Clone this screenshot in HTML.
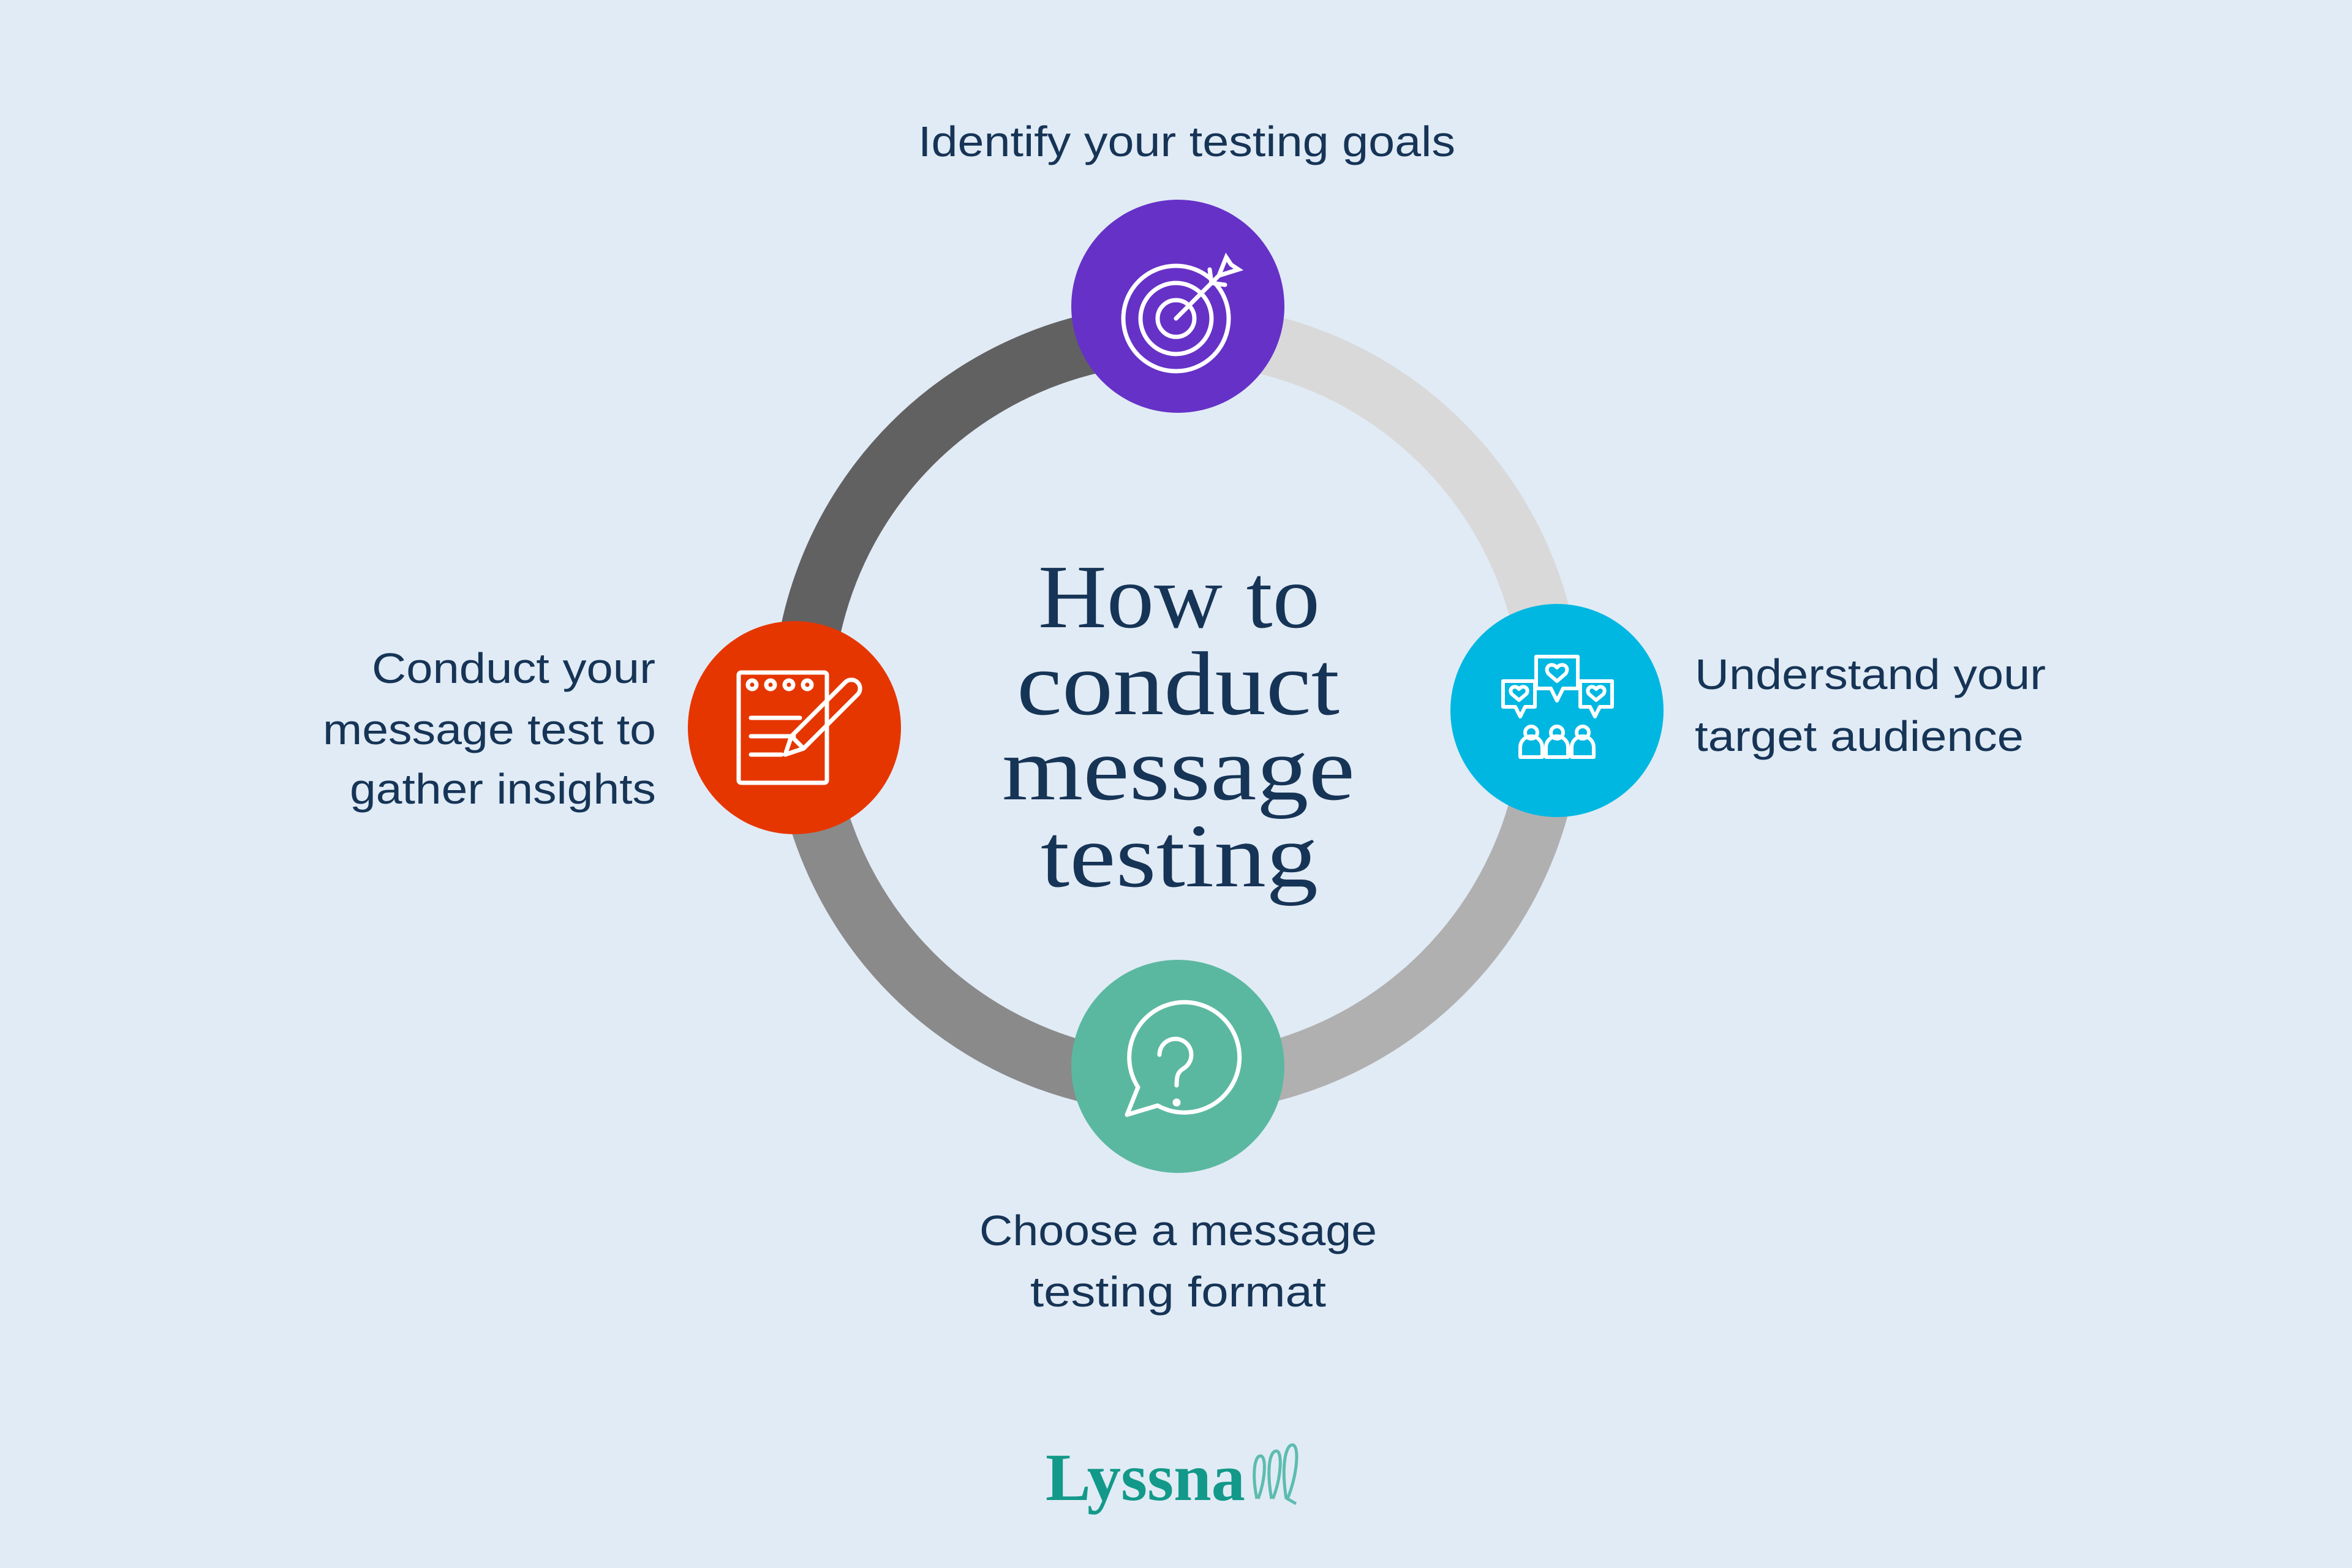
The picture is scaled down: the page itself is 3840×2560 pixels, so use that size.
<!DOCTYPE html>
<html><head><meta charset="utf-8"><style>
html,body{margin:0;padding:0;background:#e1ebf5;}
svg{display:block}
</style></head><body>
<svg width="3840" height="2560" viewBox="0 0 3840 2560" xmlns="http://www.w3.org/2000/svg">
<rect width="3840" height="2560" fill="#e1ebf5"/>
<g fill="none" stroke-width="98">
<path d="M1310 1157 A612 612 0 0 1 1922 545" stroke="#616161"/>
<path d="M1922 545 A612 612 0 0 1 2534 1157" stroke="#d9d9d9"/>
<path d="M2534 1157 A612 612 0 0 1 1922 1769" stroke="#b0b0b0"/>
<path d="M1922 1769 A612 612 0 0 1 1310 1157" stroke="#8a8a8a"/>
</g>
<circle cx="1923" cy="500" r="174" fill="#6631c7"/>
<circle cx="2542" cy="1160" r="174" fill="#00b7e2"/>
<circle cx="1923" cy="1741" r="174" fill="#5bb8a0"/>
<circle cx="1297" cy="1188" r="174" fill="#e63600"/>
<g fill="none" stroke="#fff" stroke-width="7" stroke-linecap="round">
<circle cx="1920" cy="520" r="86"/><circle cx="1920" cy="520" r="58"/><circle cx="1920" cy="520" r="30"/>
<path d="M1920 520 L1990 450 M1975 440 L1978 462 L2000 465 M1990 450 L2002 420 L2010 432 L2022 440 Z"/>
</g>
<g fill="none" stroke="#fff" stroke-width="6" stroke-linejoin="round">
<path d="M2508 1072 h68 v52 h-24 l-10 20 l-10 -20 h-24 z"/>
<path d="M2454 1112 h52 v42 h-16 l-8 16 l-8 -16 h-20 z"/>
<path d="M2580 1112 h52 v42 h-20 l-8 16 l-8 -16 h-16 z"/>
<path d="M2542 1090 c-8 -10 -22 -2 -14 10 l14 12 l14 -12 c8 -12 -6 -20 -14 -10z"/>
<path d="M2480 1125 c-6 -8 -18 -2 -12 8 l12 10 l12 -10 c6 -10 -6 -16 -12 -8z"/>
<path d="M2606 1125 c-6 -8 -18 -2 -12 8 l12 10 l12 -10 c6 -10 -6 -16 -12 -8z"/>
<circle cx="2500" cy="1196" r="10"/><path d="M2482 1236 v-16 a18 18 0 0 1 36 0 v16 z"/>
<circle cx="2542" cy="1196" r="10"/><path d="M2524 1236 v-16 a18 18 0 0 1 36 0 v16 z"/>
<circle cx="2584" cy="1196" r="10"/><path d="M2566 1236 v-16 a18 18 0 0 1 36 0 v16 z"/>
</g>
<g fill="none" stroke="#fff" stroke-width="7" stroke-linecap="round" stroke-linejoin="round">
<path d="M1840 1820 L1858 1775 A90 90 0 1 1 1890 1805 Z"/>
<path d="M1893 1722 a26 26 0 1 1 40 22 c-10 6 -12 12 -12 28"/>
<circle cx="1921" cy="1800" r="3" fill="#fff"/>
</g>
<g fill="none" stroke="#fff" stroke-width="7" stroke-linecap="round" stroke-linejoin="round">
<rect x="1206" y="1098" width="144" height="180" rx="4"/>
<circle cx="1228" cy="1118" r="7"/><circle cx="1258" cy="1118" r="7"/><circle cx="1288" cy="1118" r="7"/><circle cx="1318" cy="1118" r="7"/>
<path d="M1226 1172 h80 M1226 1202 h70 M1226 1232 h50"/>
<path d="M1282 1232 l10 -30 l88 -88 a14 14 0 0 1 20 20 l-88 88 z M1292 1202 l20 20"/>
</g>
<g font-family="'Liberation Sans',sans-serif" font-size="70" fill="#163456" lengthAdjust="spacingAndGlyphs">
<text x="1499" y="255" textLength="877" lengthAdjust="spacingAndGlyphs">Identify your testing goals</text>
<text x="607" y="1115" textLength="463" lengthAdjust="spacingAndGlyphs">Conduct your</text>
<text x="527" y="1215" textLength="544" lengthAdjust="spacingAndGlyphs">message test to</text>
<text x="571" y="1312" textLength="500" lengthAdjust="spacingAndGlyphs">gather insights</text>
<text x="2767" y="1125" textLength="573" lengthAdjust="spacingAndGlyphs">Understand your</text>
<text x="2767" y="1226" textLength="537" lengthAdjust="spacingAndGlyphs">target audience</text>
<text x="1599" y="2033" textLength="649" lengthAdjust="spacingAndGlyphs">Choose a message</text>
<text x="1682" y="2133" textLength="483" lengthAdjust="spacingAndGlyphs">testing format</text>
</g>
<g font-family="'Liberation Serif',serif" font-size="148" fill="#163456">
<text x="1695" y="1024" textLength="460" lengthAdjust="spacingAndGlyphs">How to</text>
<text x="1660" y="1166" textLength="527" lengthAdjust="spacingAndGlyphs">conduct</text>
<text x="1636" y="1305" textLength="576" lengthAdjust="spacingAndGlyphs">message</text>
<text x="1699" y="1447" textLength="453" lengthAdjust="spacingAndGlyphs">testing</text>
</g>
<text x="1707" y="2449" font-family="'Liberation Serif',serif" font-weight="bold" font-size="110" fill="#12998a" textLength="326" lengthAdjust="spacingAndGlyphs">Lyssna</text>
<g fill="none" stroke="#5dbcb0" stroke-width="5">
<path d="M2052 2447 c-8 -40 -4 -70 6 -70 c10 0 8 40 -4 70 M2076 2447 c-8 -45 -4 -78 8 -78 c10 0 8 45 -6 78 M2100 2447 c-8 -50 -2 -88 10 -88 c12 0 8 50 -8 88 l14 8"/>
</g>
</svg>
</body></html>
